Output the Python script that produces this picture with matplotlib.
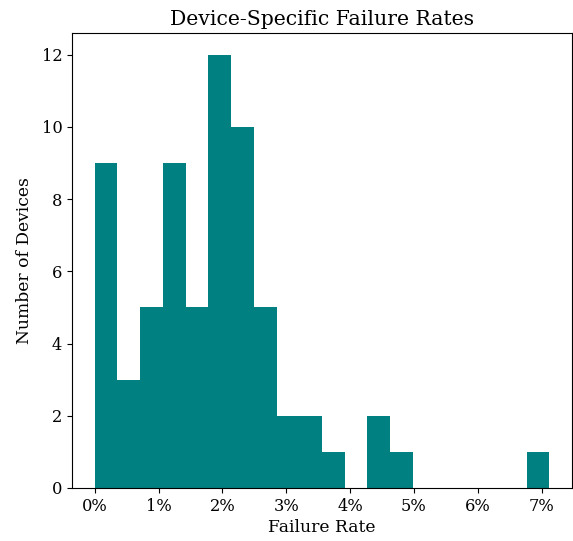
import numpy as np
import matplotlib
matplotlib.use("Agg")
import matplotlib.pyplot as plt
from matplotlib.ticker import PercentFormatter

# histogram counts (20 equal bins, 0 to ~7.12%)
bin_edges = np.linspace(0.0, 0.0712, 21)
counts = [9, 3, 5, 9, 5, 12, 10, 5, 2, 2, 1, 0, 2, 1, 0, 0, 0, 0, 0, 1]

plt.rcParams['font.family'] = ['DejaVu Serif']

fig = plt.figure(figsize=(5.73, 5.41), dpi=100)
ax = fig.add_axes([0.1257, 0.098, 0.8725, 0.841])

centers = (bin_edges[:-1] + bin_edges[1:]) / 2
ax.hist(centers, bins=bin_edges, weights=counts, color='#008080')

ax.xaxis.set_major_formatter(PercentFormatter(1.0, decimals=0))
ax.set_xticks(np.arange(0, 0.071, 0.01))
ax.set_title('Device-Specific Failure Rates', fontsize=14.7, pad=6)
ax.set_xlabel('Failure Rate', fontsize=12.3, labelpad=3)
ax.set_ylabel('Number of Devices', fontsize=12.3, labelpad=6)
ax.tick_params(labelsize=11.7)

fig.savefig('out.png', dpi=100)
